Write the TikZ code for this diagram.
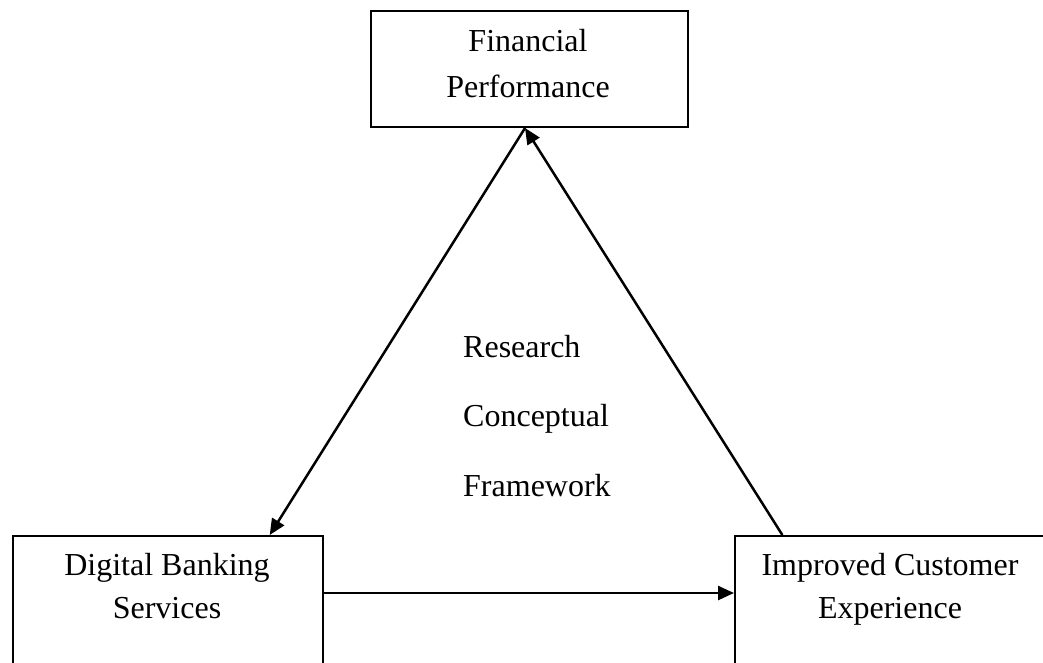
\documentclass[tikz,border=0pt]{standalone}
\usepackage{fontspec}
\setmainfont{Liberation Serif}
\usetikzlibrary{arrows.meta,calc}
\begin{document}
\begin{tikzpicture}[x=1pt,y=-1pt,
  box/.style={draw,line width=2pt,rectangle,inner sep=0pt,anchor=north west},
  lbl/.style={anchor=base,inner sep=0pt,font=\fontsize{32}{38}\selectfont},
  lblw/.style={lbl,anchor=base west},
  conn/.style={line width=2.5pt,-{Triangle[length=16pt,width=14pt]}},
]
\useasboundingbox (0,0) rectangle (1043,662);
\clip (0,0) rectangle (1043,662);
% boxes
\node[box,minimum width=317pt,minimum height=116pt] (fp) at (370,10) {};
\node[box,minimum width=310pt,minimum height=170pt] (dbs) at (12,535) {};
\node[box,minimum width=312pt,minimum height=170pt] (ice) at (734,535) {};
% box texts
\node[lbl] (fp1) at (528,51) {Financial};
\node[lbl] (fp2) at (528,97) {Performance};
\node[lbl] (dbs1) at (167,575) {Digital Banking};
\node[lbl] (dbs2) at (167,618) {Services};
\node[lbl] (ice1) at (890,575) {Improved Customer};
\node[lbl] (ice2) at (890,618) {Experience};
% centre text
\node[lblw] (c1) at (463,357) {Research};
\node[lblw] (c2) at (463,426) {Conceptual};
\node[lblw] (c3) at (463,496) {Framework};
% connectors
\draw[conn] ($(fp.south west)!0.486!(fp.south east)$) -- ($(dbs.north west)!0.826!(dbs.north east)$);
\draw[conn] ($(ice.north west)!0.154!(ice.north east)$) -- ($(fp.south west)!0.486!(fp.south east)$);
\draw[conn] ($(dbs.north east)+(0,58)$) -- ($(ice.north west)+(0,58)$);
\end{tikzpicture}
\end{document}
